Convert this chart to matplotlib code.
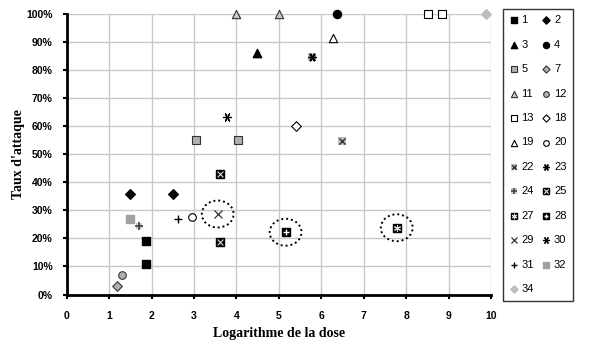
import matplotlib
matplotlib.use("Agg")
import matplotlib.pyplot as plt
from matplotlib.patches import Ellipse
from matplotlib.legend_handler import HandlerTuple

# ---- data (x = log dose, y = attack rate %) ----
s1_x = [1.88, 1.88];  s1_y = [19, 11]
s2_x = [1.49, 2.50];  s2_y = [36, 36]
s3_x = [4.49];        s3_y = [86]
s4_x = [6.36];        s4_y = [100]
s5_x = [3.05, 4.05];  s5_y = [55, 55]
s7_x = [1.18];        s7_y = [3]
s11_x = [4.00, 5.01]; s11_y = [100, 100]
s12_x = [1.31];       s12_y = [7]
s13_x = [8.52, 8.84]; s13_y = [100, 100]
s18_x = [5.40];       s18_y = [60]
s19_x = [6.28];       s19_y = [91.5]
s20_x = [2.95];       s20_y = [27.5]
s22_x = [5.78, 6.48]; s22_y = [84.6, 54.8]
s23_x = [5.78];       s23_y = [84.6]
s24_x = [1.70];       s24_y = [24.4]
s25_x = [3.61, 3.61]; s25_y = [43, 18.8]
s27_x = [7.78];       s27_y = [23.8]
s28_x = [5.16];       s28_y = [22.2]
s29_x = [3.56];       s29_y = [28.7]
s30_x = [3.79];       s30_y = [63.2]
s31_x = [2.63];       s31_y = [26.9]
s32_x = [1.49];       s32_y = [26.9]
s34_x = [9.88];       s34_y = [100]

circled = [(3.56, 28.7), (5.16, 22.2), (7.78, 23.8)]

x_ticks = list(range(0, 11))
y_ticks = list(range(0, 101, 10))
y_ticklabels = [f"{v}%" for v in y_ticks]

fig = plt.figure(figsize=(5.99, 3.48), dpi=100)
ax = fig.add_axes([0.1113, 0.1537, 0.7083, 0.806])

GR = '#b0b0b0'
S = 30
h = {}

def sc(key, xs, ys, **kw):
    kw.setdefault('s', S)
    kw.setdefault('zorder', 4)
    art = ax.scatter(xs, ys, clip_on=False, **kw)
    h.setdefault(key, []).append(art)

sc('1', s1_x, s1_y, marker='s', c='black')
sc('2', s2_x, s2_y, marker='D', c='black', s=24)
sc('3', s3_x, s3_y, marker='^', c='black', s=36)
sc('4', s4_x, s4_y, marker='o', c='black', s=34)
sc('5', s5_x, s5_y, marker='s', c=GR, edgecolors='#333333', linewidths=0.8)
sc('7', s7_x, s7_y, marker='D', c=GR, edgecolors='#333333', linewidths=0.8, s=24)
sc('11', s11_x, s11_y, marker='^', c='#c8c8c8', edgecolors='#333333', linewidths=0.8, s=36)
sc('12', s12_x, s12_y, marker='o', c=GR, edgecolors='#333333', linewidths=0.8, s=30)
sc('13', s13_x, s13_y, marker='s', c='white', edgecolors='black', linewidths=0.8)
sc('18', s18_x, s18_y, marker='D', c='white', edgecolors='black', linewidths=0.8, s=24)
sc('19', s19_x, s19_y, marker='^', c='white', edgecolors='black', linewidths=0.8, s=36)
sc('20', s20_x, s20_y, marker='o', c='white', edgecolors='black', linewidths=0.8, s=30)
sc('22', s22_x, s22_y, marker='s', c='#c0c0c0', linewidths=0)
sc('22', s22_x, s22_y, marker='x', c='#333333', linewidths=1.0, s=20, zorder=5)
sc('23', s23_x, s23_y, marker=(6, 2, 90), c='black', linewidths=1.0, s=30, zorder=5)
sc('24', s24_x, s24_y, marker='s', c='#c8c8c8', linewidths=0, s=24)
sc('24', s24_x, s24_y, marker='+', c='#444444', linewidths=1.2, s=36, zorder=5)
sc('25', s25_x, s25_y, marker='s', c='black', s=36)
sc('25', s25_x, s25_y, marker='x', c='#dddddd', linewidths=0.8, s=18, zorder=5)
sc('27', s27_x, s27_y, marker='s', c='black', s=36)
sc('27', s27_x, s27_y, marker=(6, 2, 0), c='#dddddd', linewidths=0.8, s=20, zorder=5)
sc('28', s28_x, s28_y, marker='s', c='black', s=36)
sc('28', s28_x, s28_y, marker='+', c='white', linewidths=1.0, s=22, zorder=5)
sc('29', s29_x, s29_y, marker='x', c='#333333', linewidths=0.9, s=34)
sc('30', s30_x, s30_y, marker=(6, 2, 90), c='black', linewidths=0.9, s=34)
sc('31', s31_x, s31_y, marker='+', c='black', linewidths=1.0, s=40)
sc('32', s32_x, s32_y, marker='s', c='#a0a0a0', s=40)
sc('34', s34_x, s34_y, marker='D', c='#bdbdbd', s=24)

for (cx, cy) in circled:
    ax.add_patch(Ellipse((cx, cy), 0.75, 9.6, fill=False, ls=(0, (1, 1.5)),
                         lw=1.4, ec='black', zorder=3))

ax.set_xlim(0, 10)
ax.set_ylim(0, 100)
ax.set_xticks(x_ticks)
ax.set_yticks(y_ticks)
ax.set_yticklabels(y_ticklabels)
ax.grid(True, color='#c8c8c8', lw=1.0, zorder=0)
ax.set_axisbelow(True)
for sp in ['top', 'right']:
    ax.spines[sp].set_visible(False)
for sp in ['left', 'bottom']:
    ax.spines[sp].set_linewidth(2.0)
    ax.spines[sp].set_zorder(6)
ax.tick_params(axis='x', direction='out', length=3, width=1.5, pad=9)
ax.tick_params(axis='y', direction='out', length=3, width=1.5, pad=7)
for lab in ax.get_xticklabels() + ax.get_yticklabels():
    lab.set_fontfamily('Liberation Sans')
    lab.set_fontweight('bold')
    lab.set_fontsize(7.5)

ax.set_xlabel('Logarithme de la dose', fontfamily='Liberation Serif',
              fontweight='bold', fontsize=10, labelpad=4)
ax.set_ylabel("Taux d'attaque", fontfamily='Liberation Serif',
              fontweight='bold', fontsize=10, labelpad=1)

col1 = ['1', '3', '5', '11', '13', '19', '22', '24', '27', '29', '31', '34']
col2 = ['2', '4', '7', '12', '18', '20', '23', '25', '28', '30', '32']
order = col1 + col2
handles = [tuple(h[k]) for k in order]
leg = fig.legend(handles, order, ncol=2, loc='upper left',
                 bbox_to_anchor=(497 / 599, 1 - 3 / 348),
                 handler_map={tuple: HandlerTuple(ndivide=1)},
                 prop={'family': 'Liberation Sans', 'size': 8},
                 frameon=True, fancybox=False, edgecolor='black',
                 handlelength=0.8, handletextpad=0.3, columnspacing=0.7,
                 labelspacing=1.3, borderpad=0.6, markerscale=0.75)
leg.get_frame().set_linewidth(1.0)

fig.savefig('out.png', dpi=100)
